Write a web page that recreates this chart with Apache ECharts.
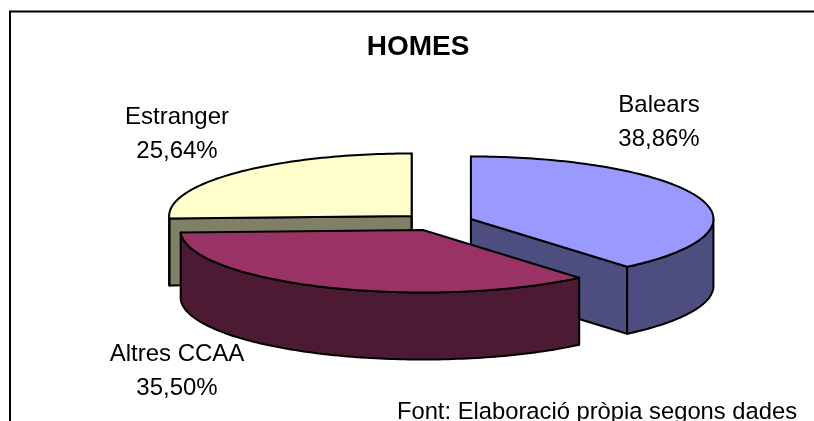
<!DOCTYPE html>
<html>
<head>
<meta charset="utf-8">
<style>html,body{margin:0;padding:0;background:#fff}#c{width:814px;height:421px}</style>
<script src="https://cdn.jsdelivr.net/npm/echarts@6/dist/echarts.min.js"></script>
</head>
<body>
<div id="c"></div>
<script>
const categories = ['Balears', 'Altres CCAA', 'Estranger'];
const values = [38.86, 35.50, 25.64];
const titleText = 'HOMES';
const sourceText = 'Font: Elaboració pròpia segons dades';

const topColors = ['#9999ff', '#993366', '#ffffcc'];
const sideColors = ['#4d4d80', '#4d1a33', '#808066'];
const layerOrder = [2, 3, 1];
const labelPositions = [[659, 122], [177, 371], [177, 134]];

const FONT = '"Liberation Sans", Arial, sans-serif';
const CX = 437.4, CY = 222, RX = 242.5, RY = 62.5, DEPTH = 67;
const EXPLODE_X = 35.7, EXPLODE_Y = 8.75;
const STROKE = { stroke: '#000', lineWidth: 2, lineJoin: 'round' };

const total = values.reduce((a, b) => a + b, 0);

function renderItem(params, api) {
  const i = params.dataIndex;
  let before = 0;
  for (let k = 0; k < i; k++) before += values[k];
  const a = before / total * 2 * Math.PI;
  const b = a + api.value(0) / total * 2 * Math.PI;
  const mid = (a + b) / 2;
  const cx = CX + EXPLODE_X * Math.sin(mid);
  const cy = CY - EXPLODE_Y * Math.cos(mid);
  const rim = t => [cx + RX * Math.sin(t), cy - RY * Math.cos(t)];
  const down = p => [p[0], p[1] + DEPTH];
  const arc = (s, e) => {
    const n = Math.max(2, Math.ceil((e - s) / 0.02));
    const pts = [];
    for (let k = 0; k <= n; k++) pts.push(rim(s + (e - s) * k / n));
    return pts;
  };
  const z = layerOrder[i] * 10;
  const children = [];
  const poly = (points, fill, z2) => children.push({
    type: 'polygon', z2,
    shape: { points },
    style: Object.assign({ fill }, STROKE)
  });
  const eps = 1e-6;
  const center = [cx, cy];
  [[a, -Math.sin(a)], [b, Math.sin(b)]].forEach(([t, facing]) => {
    if (facing >= -eps) {
      const p = rim(t);
      poly([center, p, down(p), down(center)], sideColors[i], z + 1);
    }
  });
  const ws = Math.max(a, Math.PI / 2), we = Math.min(b, 1.5 * Math.PI);
  if (we > ws) {
    const arcPts = arc(ws, we);
    poly(arcPts.concat(arcPts.slice().reverse().map(down)), sideColors[i], z + 2);
  }
  poly([center].concat(arc(a, b)), topColors[i], z + 3);
  children.push({
    type: 'text', z2: 100,
    style: {
      text: categories[i] + '\n' + api.value(0).toFixed(2).replace('.', ',') + '%',
      x: labelPositions[i][0], y: labelPositions[i][1],
      align: 'center', verticalAlign: 'middle',
      font: '24px ' + FONT, lineHeight: 34, fill: '#000'
    }
  });
  return { type: 'group', children };
}

const chart = echarts.init(document.getElementById('c'), null, { renderer: 'canvas' });
chart.setOption({
  animation: false,
  backgroundColor: '#fff',
  title: {
    text: titleText, left: 413, top: 28, textAlign: 'center',
    textStyle: { fontFamily: FONT, fontWeight: 'bold', fontSize: 28, color: '#000' }
  },
  graphic: [
    { type: 'polyline', shape: { points: [[10, 425], [10, 11.5], [818, 11.5]] },
      style: { stroke: '#000', lineWidth: 2, fill: null } },
    { type: 'text', style: { text: sourceText, x: 797, y: 424, align: 'right', verticalAlign: 'bottom',
      font: '23.75px ' + FONT, fill: '#000' } }
  ],
  series: [{
    type: 'custom',
    coordinateSystem: 'none',
    renderItem,
    data: values.map(v => [v]),
    silent: true
  }]
});
</script>
</body>
</html>
